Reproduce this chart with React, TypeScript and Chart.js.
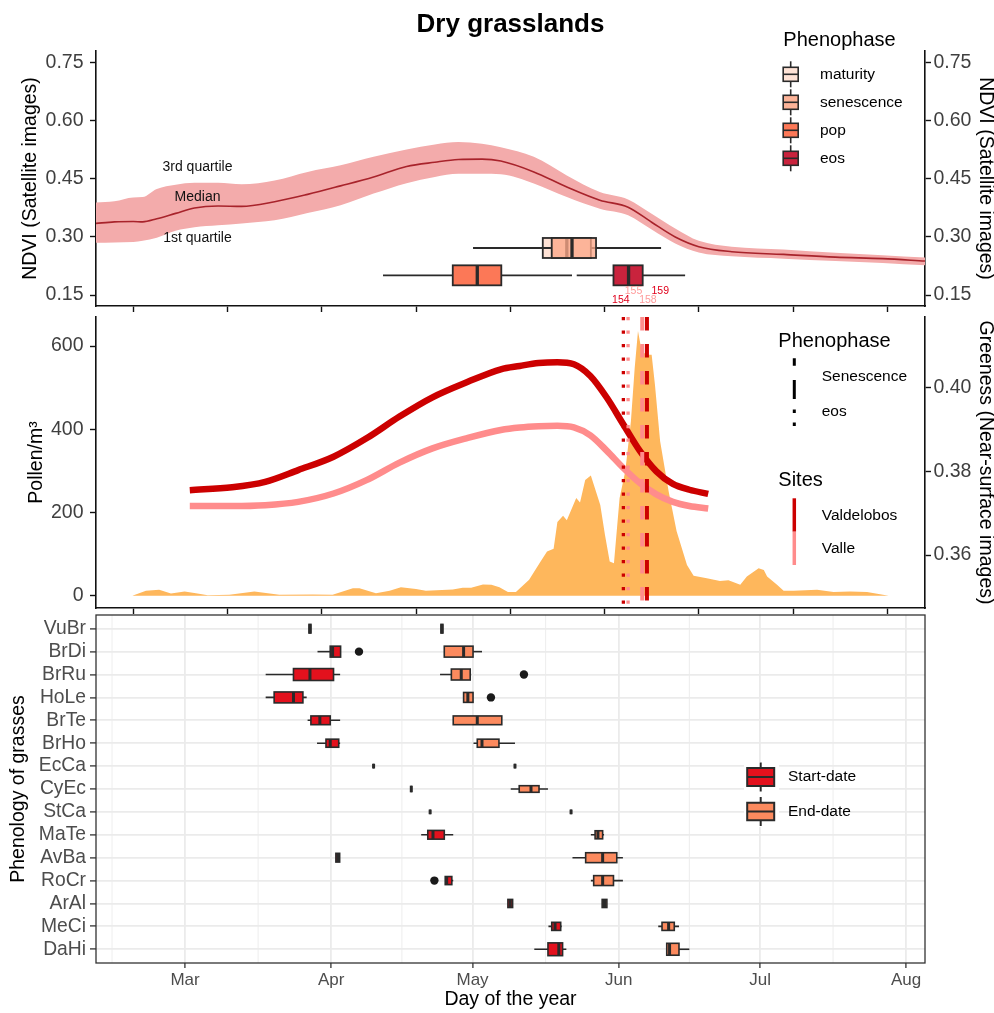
import { useEffect, useRef } from 'react';
import { Chart, registerables } from 'chart.js';

Chart.register(...registerables);

const FONT = "'Liberation Sans', Arial, Helvetica, sans-serif";
Chart.defaults.font.family = FONT;

/* ---------- shared day-of-year axis ---------- */
const dayMin = 42.1;
const dayMax = 218.0;
const upperTickDays = [50, 70, 90, 110, 130, 150, 170, 190, 210];
const monthDays = [61, 92, 122, 153, 183, 214];
const monthNames = ['Mar', 'Apr', 'May', 'Jun', 'Jul', 'Aug'];
const monthMidDays = [45.5, 76.5, 107, 137.5, 168, 198.5];

/* ---------- NDVI from satellite images ---------- */
const ndviDays = [42, 46, 50, 52, 55, 59, 63, 68, 73, 80, 87, 94, 101, 108, 114, 119, 124, 128, 135, 142, 149, 155, 160, 165, 170, 177, 188, 199, 209, 218];
const ndviMedian = [0.335, 0.339, 0.34, 0.339, 0.347, 0.361, 0.375, 0.38, 0.379, 0.391, 0.41, 0.432, 0.455, 0.482, 0.493, 0.5, 0.501, 0.496, 0.468, 0.429, 0.395, 0.377, 0.338, 0.3, 0.275, 0.262, 0.255, 0.248, 0.244, 0.238];
const ndviQ3 = [0.389, 0.392, 0.402, 0.403, 0.424, 0.435, 0.44, 0.44, 0.436, 0.446, 0.468, 0.485, 0.507, 0.526, 0.539, 0.545, 0.541, 0.532, 0.507, 0.459, 0.416, 0.397, 0.36, 0.322, 0.29, 0.275, 0.268, 0.259, 0.253, 0.247];
const ndviQ1 = [0.285, 0.286, 0.287, 0.29, 0.298, 0.316, 0.325, 0.33, 0.335, 0.343, 0.362, 0.382, 0.412, 0.439, 0.455, 0.463, 0.463, 0.462, 0.438, 0.403, 0.373, 0.356, 0.319, 0.283, 0.26, 0.25, 0.244, 0.238, 0.233, 0.227];
const ndviTicks = [0.15, 0.3, 0.45, 0.6, 0.75];

/* satellite phenophases: [lower whisker, Q1, median, Q3, upper whisker] as day of year */
const phenophaseNames = ['maturity', 'senescence', 'pop', 'eos'];
const maturityDays = [122.1, 136.9, 142.0, 147.1, 158.0];
const senescenceDays = [124.0, 138.8, 143.1, 148.2, 162.0];
const popDays = [103.0, 117.8, 123.0, 128.1, 143.1];
const eosDays = [144.1, 151.9, 155.1, 158.1, 167.1];

/* ---------- near-surface greenness and airborne pollen ---------- */
const sites = ['Valdelobos', 'Valle'];
const siteEosDay = [154, 155];
const siteSenescenceDay = [159, 158];

const greenDays = [62, 71, 78, 85, 92.5, 99.5, 106.5, 113.5, 121, 128, 132, 136, 140, 143.5, 147, 150.5, 154, 157.5, 161, 164.5, 168, 172];
const greenValdelobos = [0.3755, 0.3762, 0.3775, 0.3803, 0.3835, 0.3879, 0.3931, 0.3977, 0.4014, 0.4044, 0.4052, 0.4059, 0.4061, 0.4056, 0.4028, 0.3976, 0.3912, 0.3849, 0.38, 0.377, 0.3756, 0.3746];
const greenValle = [0.3717, 0.3717, 0.3719, 0.3727, 0.3747, 0.3779, 0.3821, 0.3855, 0.388, 0.3899, 0.3905, 0.3908, 0.3909, 0.3905, 0.3886, 0.3849, 0.3808, 0.3772, 0.3745, 0.3727, 0.3717, 0.3711];
const greenTicks = [0.36, 0.38, 0.4];

const pollenDays = [49.8, 52.7, 55.5, 58, 60.9, 63.3, 65.8, 70.4, 75.7, 81, 88.1, 92.3, 96.6, 98, 101.5, 104.4, 106.8, 110, 112.1, 117.8, 119.9, 121.7, 124.2, 126, 127.7, 129.5, 131.2, 134, 136.2, 137.8, 139.2, 140, 141.2, 142, 144, 144.8, 145.9, 147.1, 149.1, 150.1, 151.1, 152, 153.2, 154.4, 155.6, 156.4, 157.1, 157.9, 159, 160, 160.7, 161.8, 163.6, 165.3, 167.5, 168.9, 171.7, 174.5, 176.3, 178.8, 180.2, 182.7, 183.8, 184.5, 186.6, 188, 190.1, 195.1, 198.6, 202.1, 205.7, 210.3];
const pollenCount = [0, 12, 14, 5, 10, 6, 1, 2, 10, 2, 3, 2, 18, 18, 6, 12, 20, 16, 12, 15, 19, 19, 27, 26, 20, 9, 9, 38, 78, 106, 113, 177, 192, 181, 235, 224, 278, 289, 218, 146, 82, 78, 235, 299, 419, 547, 636, 587, 579, 579, 507, 371, 251, 155, 74, 48, 42, 35, 37, 26, 46, 66, 62, 46, 26, 12, 12, 14, 9, 10, 9, 0];
const pollenTicks = [0, 200, 400, 600];

/* ---------- grass phenology: [lower whisker, Q1, median, Q3, upper whisker] ---------- */
const grasses = ['VuBr', 'BrDi', 'BrRu', 'HoLe', 'BrTe', 'BrHo', 'EcCa', 'CyEc', 'StCa', 'MaTe', 'AvBa', 'RoCr', 'ArAl', 'MeCi', 'DaHi'];
const startDate = [
  [87.3, 87.3, 87.5, 87.7, 87.7],
  [89.1, 91.8, 92.3, 94.0, 94.0],
  [78.1, 84.0, 87.5, 92.5, 93.9],
  [78.1, 79.9, 84.0, 86.0, 86.8],
  [87.0, 87.7, 89.6, 91.8, 93.9],
  [89.0, 90.9, 91.8, 93.6, 93.9],
  [101.0, 101.0, 101.0, 101.0, 101.0],
  [109.0, 109.0, 109.0, 109.0, 109.0],
  [113.0, 113.0, 113.0, 113.0, 113.0],
  [111.1, 112.5, 113.6, 116.0, 117.9],
  [93.0, 93.0, 93.4, 93.8, 93.8],
  [116.2, 116.2, 116.5, 117.6, 117.9],
  [129.5, 129.5, 130.0, 130.5, 130.5],
  [138.1, 138.8, 139.5, 140.7, 140.9],
  [135.1, 138.0, 140.3, 141.1, 141.9],
];
const endDate = [
  [115.3, 115.3, 115.5, 115.7, 115.7],
  [116.0, 116.0, 120.1, 122.1, 124.0],
  [115.1, 117.5, 119.6, 121.5, 121.7],
  [120.1, 120.1, 121.0, 122.1, 122.1],
  [117.9, 117.9, 123.0, 128.2, 128.2],
  [122.2, 123.0, 124.0, 127.6, 131.0],
  [131.0, 131.0, 131.0, 131.0, 131.0],
  [130.1, 131.9, 134.4, 136.1, 138.0],
  [142.9, 142.9, 142.9, 142.9, 142.9],
  [147.1, 148.0, 148.6, 149.6, 149.9],
  [143.2, 146.0, 149.6, 152.6, 153.9],
  [147.1, 147.7, 149.6, 151.9, 153.9],
  [149.5, 149.5, 150.0, 150.5, 150.5],
  [161.4, 162.2, 163.6, 164.8, 165.8],
  [163.2, 163.2, 163.8, 165.8, 168.0],
];
const startSampleSize = [7, 11, 13, 11, 7, 6, 2, 4, 2, 7, 7, 6, 6, 6, 15];
const endSampleSize = [7, 11, 11, 9, 7, 6, 2, 4, 2, 6, 9, 9, 6, 6, 13];
const startOutliers = [[], [97.9], [], [], [], [], [], [], [], [], [], [113.9], [], [], []];
const endOutliers = [[], [], [132.9], [125.9], [], [], [], [], [], [], [], [], [], [], []];

/* ---------- page layout (px) ---------- */
const PAGE_W = 994;
const PAGE_H = 1013;
const PLOT_L = 96;
const PLOT_R = 925;
const NDVI_TOP = 51;
const NDVI_BOTTOM = 306;
const POLLEN_TOP = 317;
const POLLEN_BOTTOM = 608;
const GRASS_TOP = 615;
const GRASS_BOTTOM = 963;
const UPPER_X_H = 12;

/* ---------- colours ---------- */
const AXIS_BLACK = '#111111';
const TICK_TEXT = '#3f3f3f';
const GRASS_TICK_TEXT = '#4d4d4d';
const GRID = '#EBEBEB';
const FRAME = '#333333';
const OUTLINE = '#2a2a2a';
const BAND = '#F3ABAB';
const MEDIAN_LINE = '#A8232B';
const MATURITY = '#FEE2D5';
const SENESCENCE = 'rgba(251,166,136,0.78)';
const SENESCENCE_KEY = '#FCB398';
const POP = '#FC7857';
const EOS = '#C9233D';
const VALDELOBOS = '#CC0000';
const VALLE = '#FF8C8C';
const VALDELOBOS_TXT = '#E0001B';
const VALLE_TXT = '#FF9A9A';
const POLLEN = '#FEB75C';
const START_FILL = '#E3111D';
const END_FILL = '#FC8A5E';

const pts = (xs: number[], ys: number[]) => xs.map((x, i) => ({ x, y: ys[i] }));

function label(ctx: CanvasRenderingContext2D, s: string, x: number, y: number, size: number, color = '#000', align: CanvasTextAlign = 'left', weight = 'normal') {
  ctx.save();
  ctx.font = `${weight} ${size}px ${FONT}`;
  ctx.fillStyle = color;
  ctx.textAlign = align;
  ctx.textBaseline = 'middle';
  ctx.fillText(s, x, y);
  ctx.restore();
}

function drawBoxplot(ctx: CanvasRenderingContext2D, xScale: any, yc: number, half: number, stats: number[], fill: string, lw: number, medLw: number) {
  const [lo, q1, md, q3, hi] = stats.map((v) => xScale.getPixelForValue(v));
  ctx.save();
  ctx.strokeStyle = OUTLINE;
  ctx.lineWidth = lw;
  ctx.lineCap = 'butt';
  ctx.beginPath();
  ctx.moveTo(lo, yc);
  ctx.lineTo(q1, yc);
  ctx.moveTo(q3, yc);
  ctx.lineTo(hi, yc);
  ctx.stroke();
  ctx.fillStyle = fill;
  ctx.fillRect(q1, yc - half, q3 - q1, half * 2);
  ctx.strokeRect(q1, yc - half, q3 - q1, half * 2);
  ctx.lineWidth = medLw;
  ctx.beginPath();
  ctx.moveTo(md, yc - half);
  ctx.lineTo(md, yc + half);
  ctx.stroke();
  ctx.restore();
}

function drawBoxKey(ctx: CanvasRenderingContext2D, cx: number, cy: number, w: number, h: number, whisk: number, fill: string, lw: number) {
  ctx.save();
  ctx.strokeStyle = OUTLINE;
  ctx.lineWidth = lw;
  ctx.beginPath();
  ctx.moveTo(cx, cy - whisk);
  ctx.lineTo(cx, cy + whisk);
  ctx.stroke();
  ctx.fillStyle = fill;
  ctx.fillRect(cx - w / 2, cy - h / 2, w, h);
  ctx.strokeRect(cx - w / 2, cy - h / 2, w, h);
  ctx.beginPath();
  ctx.moveTo(cx - w / 2, cy);
  ctx.lineTo(cx + w / 2, cy);
  ctx.stroke();
  ctx.restore();
}

const upperX = () => ({
  type: 'linear',
  min: dayMin,
  max: dayMax,
  afterBuildTicks: (s: any) => {
    s.ticks = upperTickDays.map((value) => ({ value }));
  },
  ticks: { callback: () => '', padding: 0, autoSkip: false },
  grid: { display: true, drawOnChartArea: false, drawTicks: true, tickLength: 6, tickWidth: 1.4, tickColor: AXIS_BLACK },
  border: { display: true, color: AXIS_BLACK, width: 1.6 },
  afterFit: (s: any) => {
    s.height = UPPER_X_H;
  },
});

const sideY = (position: 'left' | 'right', min: number, max: number, ticks: number[], decimals: number, title: string, titlePad: number) => ({
  type: 'linear',
  position,
  min,
  max,
  afterBuildTicks: (s: any) => {
    s.ticks = ticks.map((value) => ({ value }));
  },
  ticks: {
    callback: (v: any) => Number(v).toFixed(decimals),
    color: TICK_TEXT,
    font: { size: 19.5 },
    padding: position === 'left' ? 6.5 : 2.5,
    autoSkip: false,
  },
  grid: { display: true, drawOnChartArea: false, drawTicks: true, tickLength: 6, tickWidth: 1.4, tickColor: AXIS_BLACK },
  border: { display: true, color: AXIS_BLACK, width: 1.6 },
  title: {
    display: true,
    text: title,
    color: '#000',
    font: { size: 19.5, lineHeight: position === 'left' ? 1.2 : 1 },
    padding: { top: titlePad, bottom: 0 },
  },
  afterFit: (s: any) => {
    s.width = position === 'left' ? PLOT_L : PAGE_W - PLOT_R;
  },
});

/* ---------- panel decorations ---------- */
const ndviDecor = {
  id: 'ndviDecor',
  afterDatasetsDraw(chart: any) {
    const { ctx } = chart;
    const x = chart.scales.x;
    const y = chart.scales.y;
    const upperRow = y.getPixelForValue(0.2716);
    const lowerRow = y.getPixelForValue(0.201);
    drawBoxplot(ctx, x, upperRow, 10, maturityDays, MATURITY, 1.8, 3.3);
    drawBoxplot(ctx, x, upperRow, 10, senescenceDays, SENESCENCE, 1.8, 3.3);
    drawBoxplot(ctx, x, lowerRow, 10, popDays, POP, 1.8, 3.3);
    drawBoxplot(ctx, x, lowerRow, 10, eosDays, EOS, 1.8, 3.3);

    // site day-of-year labels under the eos box
    const dayLabels = [
      { day: siteEosDay[0], color: VALDELOBOS_TXT, dx: -2.5, yy: 300 },
      { day: siteEosDay[1], color: VALLE_TXT, dx: 5.4, yy: 290.7 },
      { day: siteSenescenceDay[1], color: VALLE_TXT, dx: 5.7, yy: 300 },
      { day: siteSenescenceDay[0], color: VALDELOBOS_TXT, dx: 13.3, yy: 290.7 },
    ];
    dayLabels.forEach((l) => label(ctx, String(l.day), x.getPixelForValue(l.day) + l.dx, l.yy, 10.5, l.color, 'center'));

    // band annotations
    label(ctx, '3rd quartile', 197.5, 166.7, 14, '#111', 'center');
    label(ctx, 'Median', 197.5, 196.7, 14, '#111', 'center');
    label(ctx, '1st quartile', 197.5, 238.3, 14, '#111', 'center');
  },
  afterDraw(chart: any) {
    const { ctx } = chart;
    label(ctx, 'Dry grasslands', (PLOT_L + PLOT_R) / 2, 25, 26, '#000', 'center', 'bold');
    label(ctx, 'Phenophase', 783.3, 40, 20);
    const fills = [MATURITY, SENESCENCE_KEY, POP, EOS];
    phenophaseNames.forEach((name, i) => {
      const cy = 74.3 + i * 28;
      drawBoxKey(ctx, 790.7, cy, 15, 14, 13, fills[i], 1.6);
      label(ctx, name, 820, cy, 15.5);
    });
  },
};

const pollenDecor = {
  id: 'pollenDecor',
  afterDraw(chart: any) {
    const { ctx } = chart;
    label(ctx, 'Phenophase', 778.3, 341, 20);
    ctx.save();
    ctx.strokeStyle = '#000';
    ctx.lineWidth = 3;
    ctx.beginPath();
    ctx.moveTo(794.3, 358.3);
    ctx.lineTo(794.3, 365.7);
    ctx.moveTo(794.3, 380);
    ctx.lineTo(794.3, 399);
    ctx.moveTo(794.3, 409.5);
    ctx.lineTo(794.3, 413);
    ctx.moveTo(794.3, 422.5);
    ctx.lineTo(794.3, 426);
    ctx.stroke();
    ctx.lineWidth = 3.5;
    ctx.strokeStyle = VALDELOBOS;
    ctx.beginPath();
    ctx.moveTo(794.3, 498.3);
    ctx.lineTo(794.3, 531.7);
    ctx.stroke();
    ctx.strokeStyle = VALLE;
    ctx.beginPath();
    ctx.moveTo(794.3, 531.7);
    ctx.lineTo(794.3, 565);
    ctx.stroke();
    ctx.restore();
    label(ctx, 'Senescence', 821.7, 376.7, 15.5);
    label(ctx, 'eos', 821.7, 411.7, 15.5);
    label(ctx, 'Sites', 778.3, 480, 20);
    label(ctx, sites[0], 821.7, 515.7, 15.5);
    label(ctx, sites[1], 821.7, 549, 15.5);
  },
};

const grassDecor = {
  id: 'grassDecor',
  beforeDraw(chart: any) {
    const { ctx, chartArea } = chart;
    const x = chart.scales.x;
    ctx.save();
    ctx.strokeStyle = GRID;
    ctx.lineWidth = 0.9;
    monthMidDays.forEach((d) => {
      const px = x.getPixelForValue(d);
      ctx.beginPath();
      ctx.moveTo(px, chartArea.top);
      ctx.lineTo(px, chartArea.bottom);
      ctx.stroke();
    });
    ctx.restore();
  },
  beforeDatasetsDraw(chart: any) {
    const { ctx } = chart;
    const x = chart.scales.x;
    const y = chart.scales.y;
    grasses.forEach((_, i) => {
      const yc = y.getPixelForValue(i);
      drawBoxplot(ctx, x, yc, 1.65 * Math.sqrt(startSampleSize[i]), startDate[i], START_FILL, 1.6, 3);
      drawBoxplot(ctx, x, yc, 1.65 * Math.sqrt(endSampleSize[i]), endDate[i], END_FILL, 1.6, 3);
    });
  },
  afterDraw(chart: any) {
    const { ctx, chartArea } = chart;
    ctx.save();
    ctx.fillStyle = '#fff';
    ctx.fillRect(744, 762, 35, 65);
    ctx.restore();
    drawBoxKey(ctx, 760.7, 777, 27, 18, 14.5, START_FILL, 2);
    drawBoxKey(ctx, 760.7, 811.5, 27, 17.5, 14.5, END_FILL, 2);
    label(ctx, 'Start-date', 788, 777, 15.5);
    label(ctx, 'End-date', 788, 812, 15.5);
    ctx.save();
    ctx.strokeStyle = FRAME;
    ctx.lineWidth = 1.3;
    ctx.strokeRect(chartArea.left, chartArea.top, chartArea.right - chartArea.left, chartArea.bottom - chartArea.top);
    ctx.restore();
  },
};

/* ---------- chart configurations ---------- */
const baseOptions = (padTop: number, padBottom: number, padRight = 0) => ({
  responsive: false,
  animation: false,
  devicePixelRatio: 1,
  events: [],
  layout: { padding: { left: 0, right: padRight, top: padTop, bottom: padBottom } },
  plugins: { legend: { display: false }, tooltip: { enabled: false }, title: { display: false } },
});

const ndviConfig = (): any => ({
  type: 'line',
  data: {
    datasets: [
      { label: 'Median', data: pts(ndviDays, ndviMedian), borderColor: MEDIAN_LINE, borderWidth: 1.6, pointRadius: 0, cubicInterpolationMode: 'monotone', fill: false, yAxisID: 'y', order: 0 },
      { label: '1st quartile', data: pts(ndviDays, ndviQ1), borderColor: 'rgba(0,0,0,0)', borderWidth: 1, pointRadius: 0, cubicInterpolationMode: 'monotone', fill: false, yAxisID: 'y', order: 2 },
      { label: '3rd quartile', data: pts(ndviDays, ndviQ3), borderColor: 'rgba(0,0,0,0)', borderWidth: 1, pointRadius: 0, cubicInterpolationMode: 'monotone', fill: 1, backgroundColor: BAND, yAxisID: 'y', order: 1 },
    ],
  },
  options: {
    ...baseOptions(NDVI_TOP, PAGE_H - NDVI_BOTTOM - UPPER_X_H),
    scales: {
      x: upperX(),
      y: sideY('left', 0.1218, 0.7802, ndviTicks, 2, 'NDVI (Satellite images)', 18.8),
      y2: sideY('right', 0.1218, 0.7802, ndviTicks, 2, 'NDVI (Satellite images)', -1.5),
    },
  },
  plugins: [ndviDecor],
});

const phaseLine = (day: number, color: string, dash: number[], width: number) => ({
  label: String(day),
  data: [
    { x: day, y: 669.7 },
    { x: day, y: -29.6 },
  ],
  borderColor: color,
  borderWidth: width,
  borderDash: dash,
  borderCapStyle: 'butt',
  pointRadius: 0,
  fill: false,
  yAxisID: 'y',
  order: 0,
});

const pollenConfig = (): any => ({
  type: 'line',
  data: {
    datasets: [
      phaseLine(siteEosDay[0], VALDELOBOS, [3.3, 10.2], 3.3),
      phaseLine(siteEosDay[1], VALLE, [3.3, 10.2], 3.3),
      phaseLine(siteSenescenceDay[1], VALLE, [13.5, 13.5], 4),
      phaseLine(siteSenescenceDay[0], VALDELOBOS, [13.5, 13.5], 4),
      { label: sites[0], data: pts(greenDays, greenValdelobos), borderColor: VALDELOBOS, borderWidth: 6.5, borderCapStyle: 'butt', pointRadius: 0, cubicInterpolationMode: 'monotone', fill: false, yAxisID: 'y2', order: 1 },
      { label: sites[1], data: pts(greenDays, greenValle), borderColor: VALLE, borderWidth: 6.5, borderCapStyle: 'butt', pointRadius: 0, cubicInterpolationMode: 'monotone', fill: false, yAxisID: 'y2', order: 1 },
      { label: 'Pollen', data: pts(pollenDays, pollenCount), borderColor: 'rgba(0,0,0,0)', borderWidth: 1, backgroundColor: POLLEN, pointRadius: 0, tension: 0, fill: 'origin', yAxisID: 'y', order: 2 },
    ],
  },
  options: {
    ...baseOptions(POLLEN_TOP, PAGE_H - POLLEN_BOTTOM - UPPER_X_H),
    scales: {
      x: upperX(),
      y: sideY('left', -29.6, 669.7, pollenTicks, 0, 'Pollen/m³', 24.6),
      y2: sideY('right', 0.34733, 0.4169, greenTicks, 2, 'Greeness (Near-surface images)', -1.5),
    },
  },
  plugins: [pollenDecor],
});

const outlierPoints = (list: number[][]) => list.flatMap((vals, i) => vals.map((v) => ({ x: v, y: i })));

const grassConfig = (): any => ({
  type: 'scatter',
  data: {
    datasets: [
      { label: 'Start-date', data: outlierPoints(startOutliers), pointRadius: 4.2, backgroundColor: '#1a1a1a', borderWidth: 0 },
      { label: 'End-date', data: outlierPoints(endOutliers), pointRadius: 4.2, backgroundColor: '#1a1a1a', borderWidth: 0 },
    ],
  },
  options: {
    ...baseOptions(GRASS_TOP, 0, PAGE_W - PLOT_R),
    scales: {
      x: {
        type: 'linear',
        min: dayMin,
        max: dayMax,
        afterBuildTicks: (s: any) => {
          s.ticks = monthDays.map((value) => ({ value }));
        },
        ticks: { callback: (_v: any, i: number) => monthNames[i], color: GRASS_TICK_TEXT, font: { size: 17 }, padding: 2, maxRotation: 0, autoSkip: false },
        grid: { display: true, color: GRID, lineWidth: 1.8, drawTicks: true, tickLength: 5, tickColor: FRAME, tickWidth: 1.3 },
        border: { display: false },
        title: { display: true, text: 'Day of the year', color: '#000', font: { size: 19.5 }, padding: { top: 0, bottom: 1.3 } },
        afterFit: (s: any) => {
          s.height = PAGE_H - GRASS_BOTTOM;
        },
      },
      y: {
        type: 'linear',
        position: 'left',
        reverse: true,
        min: -0.6,
        max: 14.6,
        afterBuildTicks: (s: any) => {
          s.ticks = grasses.map((_, i) => ({ value: i }));
        },
        ticks: { callback: (v: any) => grasses[Number(v)] ?? '', color: GRASS_TICK_TEXT, font: { size: 19.3 }, padding: 4, autoSkip: false },
        grid: { display: true, color: GRID, lineWidth: 1.8, drawTicks: true, tickLength: 6, tickColor: FRAME, tickWidth: 1.3 },
        border: { display: false },
        title: { display: true, text: 'Phenology of grasses', color: '#000', font: { size: 19.5 }, padding: { top: 7.3, bottom: 0 } },
        afterFit: (s: any) => {
          s.width = PLOT_L;
        },
      },
    },
  },
  plugins: [grassDecor],
});

export default function App() {
  const ndviRef = useRef<HTMLCanvasElement>(null);
  const pollenRef = useRef<HTMLCanvasElement>(null);
  const grassRef = useRef<HTMLCanvasElement>(null);

  useEffect(() => {
    const charts = [
      new Chart(ndviRef.current as HTMLCanvasElement, ndviConfig()),
      new Chart(pollenRef.current as HTMLCanvasElement, pollenConfig()),
      new Chart(grassRef.current as HTMLCanvasElement, grassConfig()),
    ];
    return () => charts.forEach((c) => c.destroy());
  }, []);

  const layer: React.CSSProperties = { position: 'absolute', left: 0, top: 0 };
  return (
    <div style={{ position: 'absolute', left: 0, top: 0, width: PAGE_W, height: PAGE_H, background: '#fff', overflow: 'hidden' }}>
      <canvas ref={grassRef} width={PAGE_W} height={PAGE_H} style={layer} />
      <canvas ref={pollenRef} width={PAGE_W} height={PAGE_H} style={layer} />
      <canvas ref={ndviRef} width={PAGE_W} height={PAGE_H} style={layer} />
    </div>
  );
}
